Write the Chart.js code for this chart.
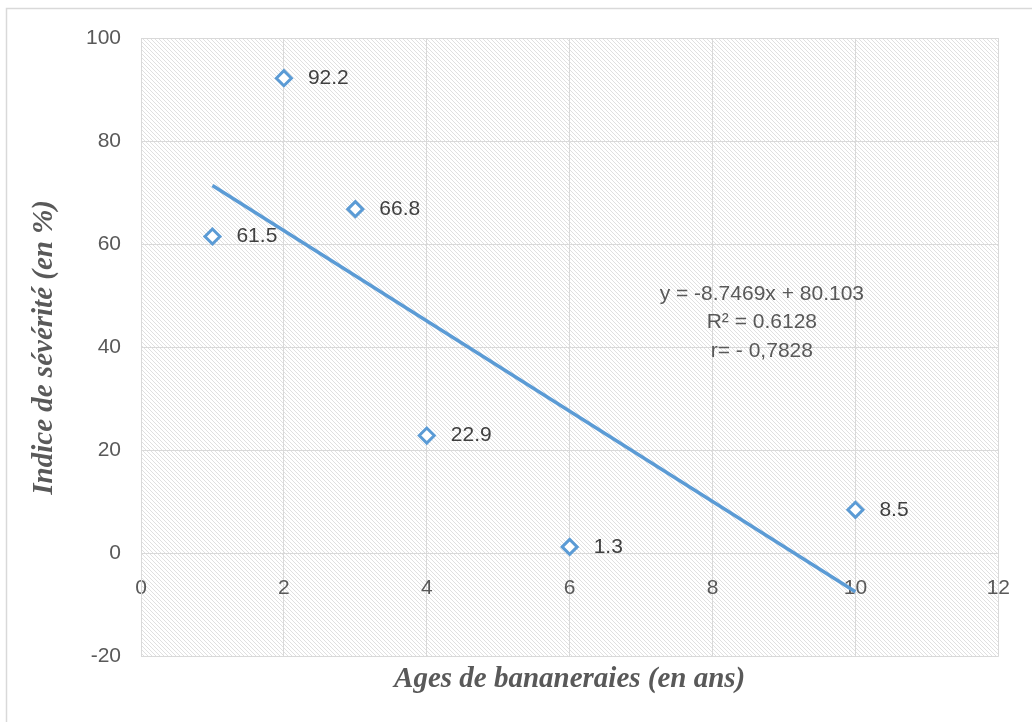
<!DOCTYPE html>
<html>
<head>
<meta charset="utf-8">
<script src="https://cdn.jsdelivr.net/npm/chart.js@4/dist/chart.umd.min.js"></script>
<style>
html,body{margin:0;padding:0;background:#fff;}
#wrap{position:relative;width:1032px;height:722px;}
</style>
</head>
<body>
<div id="wrap"><canvas id="c" width="1032" height="722"></canvas></div>
<script>
// ---- data ----
const ages = [1, 2, 3, 4, 6, 10];
const severity = [61.5, 92.2, 66.8, 22.9, 1.3, 8.5];
const trendX = [1, 10];
const trendY = [71.4, -7.4];
const xTicks = [0, 2, 4, 6, 8, 10, 12];
const yTicks = [-20, 0, 20, 40, 60, 80, 100];
const equationLines = ['y = -8.7469x + 80.103', 'R\u00B2 = 0.6128', 'r= - 0,7828'];
const xTitle = 'Ages de bananeraies (en ans)';
const yTitle = 'Indice de s\u00E9v\u00E9rit\u00E9 (en %)';

const BLUE = '#5B9BD5';
const TICK_FONT = {family: '"Liberation Sans", Arial, sans-serif', size: 21};
const TITLE_FONT = {family: '"Liberation Serif", "Times New Roman", serif', size: 29, weight: 'bold', style: 'italic'};

// hatch pattern
function makePattern(ctx) {
  const p = document.createElement('canvas');
  p.width = 8; p.height = 8;
  const pc = p.getContext('2d');
  pc.fillStyle = '#ffffff';
  pc.fillRect(0, 0, 8, 8);
  pc.fillStyle = '#e0e0e0';
  for (let y = 0; y < 8; y++) {
    for (let x = 0; x < 8; x++) {
      if (((x - y + 16) % 4) === 0) pc.fillRect(x, y, 1, 1);
    }
  }
  return ctx.createPattern(p, 'repeat');
}

const bgPlugin = {
  id: 'bg',
  beforeDraw(chart) {
    const {ctx, chartArea: a} = chart;
    ctx.save();
    ctx.fillStyle = '#ffffff';
    ctx.fillRect(0, 0, chart.width, chart.height);
    ctx.strokeStyle = '#d9d9d9';
    ctx.lineWidth = 1.5;
    ctx.beginPath();
    ctx.moveTo(6.5, chart.height);
    ctx.lineTo(6.5, 8.5);
    ctx.lineTo(chart.width, 8.5);
    ctx.stroke();
    ctx.fillStyle = makePattern(ctx);
    ctx.fillRect(a.left, a.top, a.right - a.left, a.bottom - a.top);
    ctx.restore();
  }
};

const labelPlugin = {
  id: 'labels',
  afterDatasetsDraw(chart) {
    const {ctx} = chart;
    const meta = chart.getDatasetMeta(1);
    ctx.save();
    ctx.font = '21px "Liberation Sans", Arial, sans-serif';
    ctx.fillStyle = '#404040';
    ctx.textAlign = 'left';
    ctx.textBaseline = 'middle';
    meta.data.forEach((el, i) => {
      ctx.fillText(String(severity[i]), el.x + 24, el.y);
    });
    // equation block
    const xs = chart.scales.x, ys = chart.scales.y;
    const ex = xs.getPixelForValue(8.69);
    const ey = ys.getPixelForValue(50.4);
    ctx.fillStyle = '#595959';
    ctx.textAlign = 'center';
    equationLines.forEach((t, i) => ctx.fillText(t, ex, ey + i * 28.5));
    ctx.restore();
  }
};

new Chart(document.getElementById('c'), {
  data: {
    datasets: [
      {
        type: 'line',
        data: trendX.map((x, i) => ({x: x, y: trendY[i]})),
        borderColor: BLUE,
        borderWidth: 3.5,
        pointRadius: 0,
        fill: false,
        order: 2
      },
      {
        type: 'scatter',
        data: ages.map((x, i) => ({x: x, y: severity[i]})),
        pointStyle: 'rectRot',
        pointRadius: 7.5,
        pointHoverRadius: 7.5,
        borderColor: BLUE,
        backgroundColor: '#ffffff',
        borderWidth: 3,
        order: 1
      }
    ]
  },
  options: {
    responsive: false,
    animation: false,
    events: [],
    layout: {padding: {left: 10, top: 38, right: 32, bottom: 25}},
    plugins: {
      legend: {display: false},
      tooltip: {enabled: false},
      title: {
        display: true,
        position: 'bottom',
        fullSize: false,
        text: xTitle,
        color: '#595959',
        font: TITLE_FONT,
        padding: {top: 5.5, bottom: 0}
      }
    },
    scales: {
      x: {
        type: 'linear',
        position: {y: 0},
        min: 0, max: 12,
        afterBuildTicks(s) { s.ticks = xTicks.map(v => ({value: v})); },
        afterFit(s) { s.height = 0; },
        ticks: {color: '#595959', font: TICK_FONT, padding: 22, maxRotation: 0},
        grid: {color: '#d9d9d9', lineWidth: 1, drawTicks: false},
        border: {color: '#d9d9d9'}
      },
      y: {
        type: 'linear',
        position: 'left',
        min: -20, max: 100,
        afterBuildTicks(s) { s.ticks = yTicks.map(v => ({value: v})); },
        afterFit(s) { s.width = 131; },
        ticks: {color: '#595959', font: TICK_FONT, padding: 20},
        grid: {color: '#d9d9d9', lineWidth: 1, drawTicks: false},
        border: {color: '#d9d9d9'},
        title: {
          display: true,
          text: yTitle,
          color: '#595959',
          font: TITLE_FONT,
          padding: {top: 17.5, bottom: 0}
        }
      }
    }
  },
  plugins: [bgPlugin, labelPlugin]
});
</script>
</body>
</html>
